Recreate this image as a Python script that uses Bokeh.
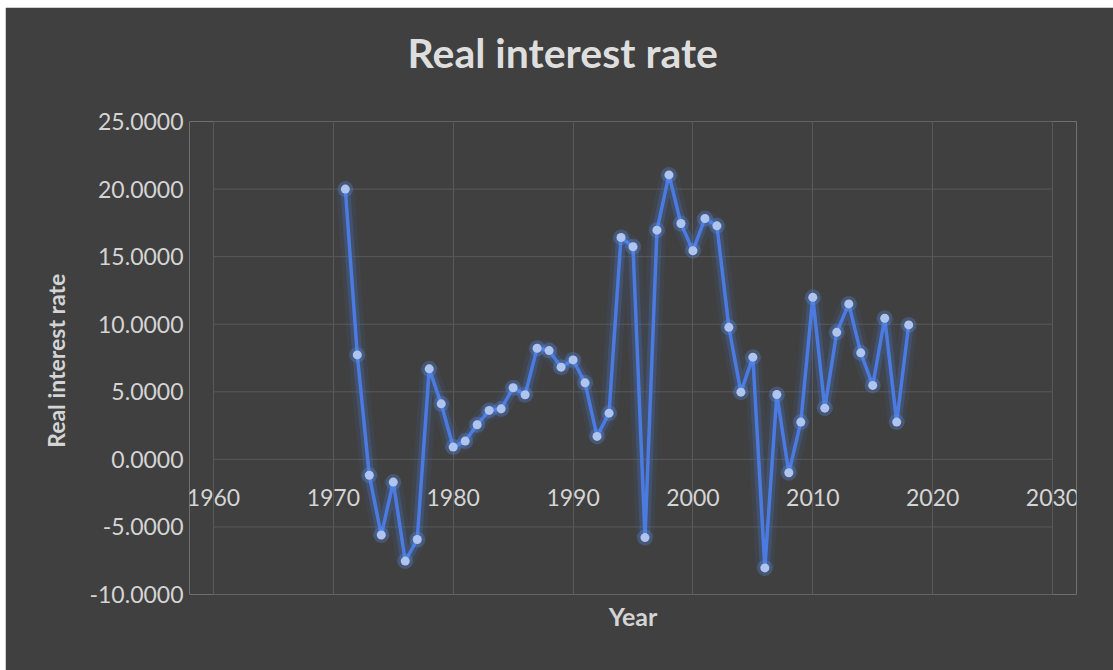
from bokeh.plotting import figure
from bokeh.models import (Range1d, FixedTicker, NumeralTickFormatter, Title,
                          ColumnDataSource, Label)
from bokeh.embed import file_html
from bokeh.resources import INLINE

years = list(range(1971, 2019))
rates = [20.0, 7.73, -1.18, -5.6, -1.68, -7.53, -5.93, 6.7, 4.11, 0.91,
         1.35, 2.56, 3.62, 3.74, 5.3, 4.78, 8.22, 8.05, 6.82, 7.36,
         5.66, 1.7, 3.42, 16.42, 15.73, -5.79, 16.96, 21.05, 17.45, 15.44,
         17.82, 17.28, 9.77, 4.97, 7.56, -8.03, 4.8, -0.99, 2.76, 11.99,
         3.79, 9.4, 11.5, 7.88, 5.47, 10.44, 2.76, 9.95]
x_ticks = [1960, 1970, 1980, 1990, 2000, 2010, 2020, 2030]
x_tick_labels = ["1960", "1970", "1980", "1990", "2000", "2010", "2020", "2030"]
y_ticks = [-10, -5, 0, 5, 10, 15, 20, 25]

BG = "#404040"
GRID = "#595959"
TXT = "#d4d4d4"
FONT = "Lato"

src = ColumnDataSource(dict(year=years, rate=rates))
hgrid = ColumnDataSource(dict(x0=[x_ticks[0]] * len(y_ticks), x1=[x_ticks[-1]] * len(y_ticks),
                              y=y_ticks))

p = figure(width=1108, height=663, output_backend="svg", toolbar_location=None,
           title=None,
           x_range=Range1d(1958, 2032), y_range=Range1d(-10, 25),
           min_border_left=184, min_border_right=37, min_border_top=114, min_border_bottom=76,
           background_fill_color=BG, border_fill_color=BG,
           outline_line_color=BG, outline_line_width=0,
           margin=(7, 0, 0, 5))

# title (a thin spacer keeps it clear of the plot area)
p.add_layout(Title(text=" ", text_font_size="2px", standoff=36, text_color=BG), "above")
p.add_layout(Title(text="Real interest rate", text_font=FONT, text_font_size="41px",
                   text_font_style="bold", text_color="#dedede", align="left",
                   offset=218, standoff=10), "above")

# axes
p.xaxis.ticker = FixedTicker(ticks=x_ticks)
p.xgrid.ticker = FixedTicker(ticks=x_ticks)
p.xaxis.visible = False
p.yaxis.ticker = FixedTicker(ticks=y_ticks)
p.yaxis.formatter = NumeralTickFormatter(format="0.0000")
p.yaxis.major_tick_line_color = None
p.yaxis.minor_tick_line_color = None
p.yaxis.major_label_text_font = FONT
p.yaxis.major_label_text_font_size = "23px"
p.yaxis.major_label_text_color = TXT
p.yaxis.axis_line_color = None
p.yaxis.major_label_standoff = 0
p.yaxis.axis_label = "Real interest  rate"
p.yaxis.axis_label_text_font = FONT
p.yaxis.axis_label_text_font_size = "23px"
p.yaxis.axis_label_text_font_style = "bold"
p.yaxis.axis_label_text_color = TXT
p.yaxis.axis_label_standoff = 16

p.xgrid.grid_line_color = GRID
p.ygrid.visible = False
# horizontal grid lines span only the axis extent (first to last x tick)
p.segment(x0="x0", x1="x1", y0="y", y1="y", source=hgrid,
          line_color=GRID, line_width=1)

# x tick labels sit next to the horizontal axis at y = 0
for xv, t in zip(x_ticks, x_tick_labels):
    p.add_layout(Label(x=xv, y=0, text=t, text_align="center", text_baseline="middle",
                       y_offset=-38, text_font=FONT, text_font_size="23px",
                       text_color=TXT))

xt = Title(text="Year", align="center", text_font=FONT, text_font_size="25px",
           text_font_style="bold", text_color=TXT, standoff=8)
p.add_layout(xt, "below")

# glowing line with markers
p.line("year", "rate", source=src, line_color="#4472C4", line_width=18, line_alpha=0.10)
p.line("year", "rate", source=src, line_color="#4a7fe0", line_width=10, line_alpha=0.22)
p.line("year", "rate", source=src, line_color="#4b7be0", line_width=3.5)
p.scatter("year", "rate", source=src, size=16, fill_color="#5b8ff0", fill_alpha=0.28, line_color=None)
p.scatter("year", "rate", source=src, size=9, fill_color="#afc4ef", line_color=None)

open("out.html", "w").write(file_html(p, INLINE))
